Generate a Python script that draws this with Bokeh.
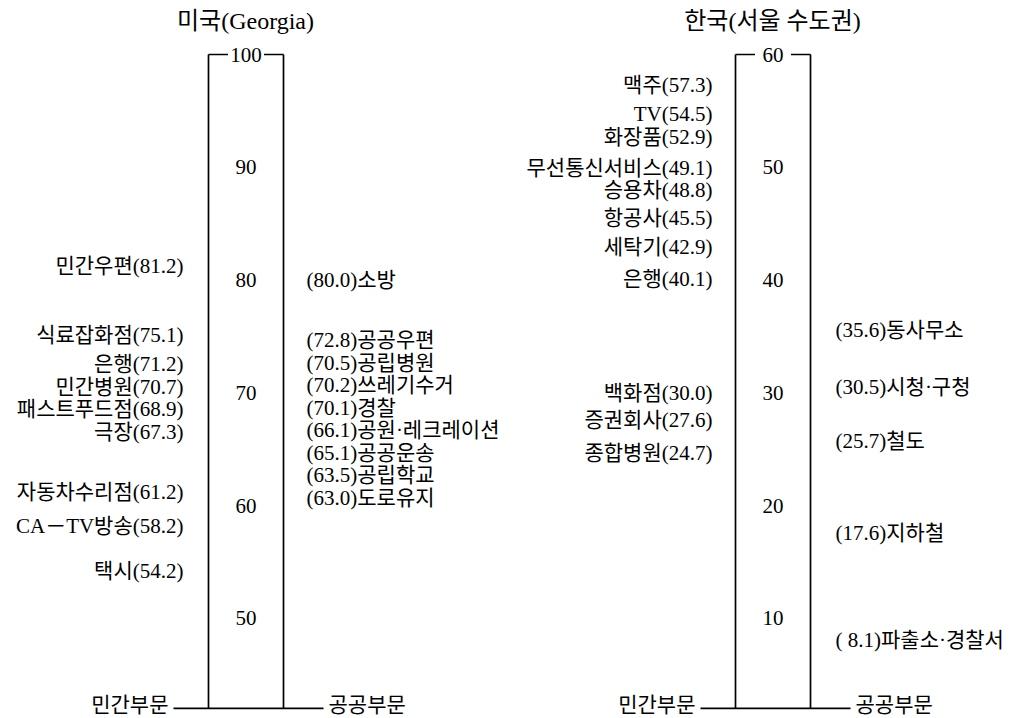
from bokeh.plotting import figure
from bokeh.models import Range1d
from bokeh.core.properties import value
from bokeh.embed import file_html
from bokeh.resources import INLINE

# ---------------- data ----------------
us_title = "미국(Georgia)"
kr_title = "한국(서울 수도권)"

us_private_names = ["민간우편", "식료잡화점", "은행", "민간병원", "패스트푸드점", "극장",
                    "자동차수리점", "CA－TV방송", "택시"]
us_private_values = [81.2, 75.1, 71.2, 70.7, 68.9, 67.3, 61.2, 58.2, 54.2]
us_public_names = ["소방", "공공우편", "공립병원", "쓰레기수거", "경찰", "공원·레크레이션",
                   "공공운송", "공립학교", "도로유지"]
us_public_values = [80.0, 72.8, 70.5, 70.2, 70.1, 66.1, 65.1, 63.5, 63.0]
us_ticks = [50, 60, 70, 80, 90, 100]

kr_private_names = ["맥주", "TV", "화장품", "무선통신서비스", "승용차", "항공사", "세탁기",
                    "은행", "백화점", "증권회사", "종합병원"]
kr_private_values = [57.3, 54.5, 52.9, 49.1, 48.8, 45.5, 42.9, 40.1, 30.0, 27.6, 24.7]
kr_public_names = ["동사무소", "시청·구청", "철도", "지하철", "파출소·경찰서"]
kr_public_values = [35.6, 30.5, 25.7, 17.6, 8.1]
kr_ticks = [10, 20, 30, 40, 50, 60]

side_labels = ["민간부문", "공공부문"]

# ---------------- layout ----------------
W, H = 1024, 716
PX = 11.275            # pixels per scale unit
TOP_PX = 54            # pixel offset of scale top from figure top
FONT = value("'Liberation Serif', 'Noto Sans CJK KR'")
FS = "21px"
GAP = 2.0              # minimum label spacing in scale units

p = figure(width=W, height=H, output_backend="svg", toolbar_location=None,
           x_range=Range1d(0, W), min_border=0)
p.xaxis.visible = False
p.yaxis.visible = False
p.grid.visible = False
p.outline_line_color = None
p.background_fill_color = "white"
p.border_fill_color = "white"


def yr(top):
    return Range1d(top - (H - TOP_PX) / PX, top + TOP_PX / PX)


p.y_range = yr(100)
p.extra_y_ranges = {"kr": yr(60)}


def spread(vals, gap):
    order = sorted(range(len(vals)), key=lambda i: -vals[i])
    clusters = [[i] for i in order]

    def top_of(cl):
        m = sum(vals[i] for i in cl) / len(cl)
        return m + gap * (len(cl) - 1) / 2

    changed = True
    while changed:
        changed = False
        for k in range(len(clusters) - 1):
            a, b = clusters[k], clusters[k + 1]
            if (top_of(a) - gap * (len(a) - 1)) - top_of(b) < gap:
                clusters[k] = a + b
                del clusters[k + 1]
                changed = True
                break
    pos = [0.0] * len(vals)
    for cl in clusters:
        t = top_of(cl)
        for j, i in enumerate(cl):
            pos[i] = t - gap * j
    return pos


def panel(title, ticks, priv_names, priv_vals, pub_names, pub_vals, cfg, rn):
    top, bottom = max(ticks), min(ticks) - 8
    kw = {} if rn is None else {"y_range_name": rn}
    bl, br, cx = cfg["box_l"], cfg["box_r"], cfg["cx"]
    lw = 1.7
    # box sides
    p.segment(x0=[bl, br], y0=[top, top], x1=[bl, br], y1=[bottom, bottom],
              line_color="black", line_width=lw, **kw)
    # top border with gap for the top tick label
    g = cfg["gap"]
    p.segment(x0=[bl, cx + g], y0=[top, top], x1=[cx - g, br], y1=[top, top],
              line_color="black", line_width=lw, **kw)
    # baseline
    p.segment(x0=[cfg["base_l"]], y0=[bottom], x1=[cfg["base_r"]], y1=[bottom],
              line_color="black", line_width=lw, **kw)
    # tick labels
    p.text(x=[cx] * len(ticks), y=ticks, text=[str(t) for t in ticks],
           text_align="center", text_baseline="middle", text_font=FONT,
           text_font_size=FS, text_color="black", **kw)
    # title
    p.text(x=[cfg["title_x"]], y=[top + 34 / PX], text=[title],
           text_align="center", text_baseline="middle", text_font=FONT,
           text_font_size="24px", text_color="black", **kw)
    # side labels
    p.text(x=[cfg["base_l"] - 5], y=[bottom], text=[side_labels[0]],
           text_align="right", text_baseline="middle", text_font=FONT,
           text_font_size=FS, text_color="black", y_offset=-3, **kw)
    p.text(x=[cfg["base_r"] + 5], y=[bottom], text=[side_labels[1]],
           text_align="left", text_baseline="middle", text_font=FONT,
           text_font_size=FS, text_color="black", y_offset=-3, **kw)
    # private labels (left, right-aligned)
    py = spread(priv_vals, GAP)
    p.text(x=[cfg["priv_x"]] * len(priv_vals), y=py,
           text=[f"{n}({v:.1f})" for n, v in zip(priv_names, priv_vals)],
           text_align="right", text_baseline="middle", text_font=FONT,
           text_font_size=FS, text_color="black", **kw)
    # public labels (right, left-aligned)
    qy = spread(pub_vals, GAP)
    p.text(x=[cfg["pub_x"]] * len(pub_vals), y=qy,
           text=[f"({v:4.1f}){n}" for n, v in zip(pub_names, pub_vals)],
           text_align="left", text_baseline="middle", text_font=FONT,
           text_font_size=FS, text_color="black", **kw)


us_cfg = dict(box_l=208, box_r=283, cx=245.5, priv_x=183, pub_x=306,
              base_l=173, base_r=323, title_x=245, gap=18)
kr_cfg = dict(box_l=735, box_r=810, cx=772.5, priv_x=712, pub_x=835,
              base_l=700, base_r=850, title_x=772, gap=18)

panel(us_title, us_ticks, us_private_names, us_private_values,
      us_public_names, us_public_values, us_cfg, None)
panel(kr_title, kr_ticks, kr_private_names, kr_private_values,
      kr_public_names, kr_public_values, kr_cfg, "kr")

open("out.html", "w").write(file_html(p, INLINE))
